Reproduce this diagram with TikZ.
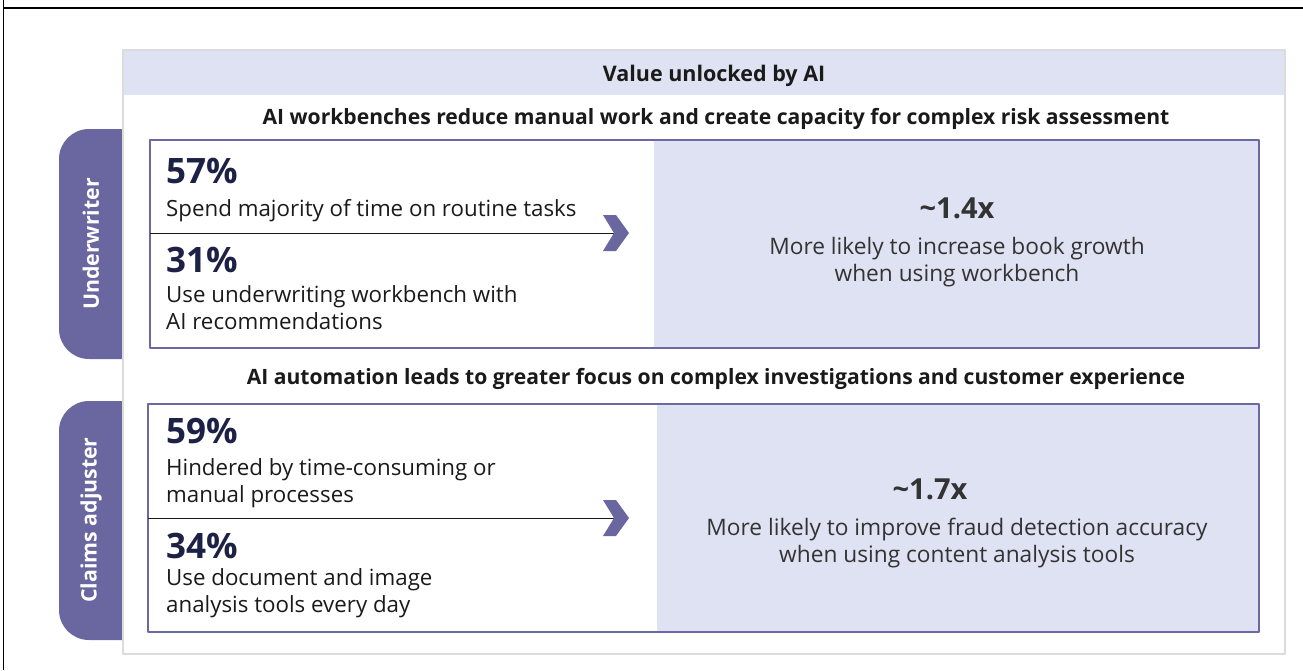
\documentclass[tikz,border=0pt]{standalone}
\usepackage{fontspec}
\setmainfont{Open Sans}
\usepackage{tikz}
\usetikzlibrary{positioning}

\definecolor{tabcol}{HTML}{6A669F}
\definecolor{lavcol}{HTML}{DFE2F3}
\definecolor{navycol}{HTML}{1D2146}
\definecolor{inkcol}{HTML}{1A1A1A}
\definecolor{softcol}{HTML}{333333}
\definecolor{panelcol}{HTML}{DCDCDC}
\definecolor{boxcol}{HTML}{6C68A6}

\begin{document}
\begin{tikzpicture}[x=1pt,y=-1pt,line join=bevel,
  tabtext/.style={text=white,font=\bfseries\fontsize{21.3}{24}\selectfont,rotate=90},
  heading/.style={anchor=base,text=inkcol,font=\bfseries\fontsize{21.1}{24}\selectfont},
  pct/.style={anchor=base west,inner xsep=0pt,text=navycol,font=\bfseries\fontsize{35}{38}\selectfont},
  stat/.style={anchor=base west,inner xsep=0pt,text=inkcol,align=left,font=\fontsize{22.3}{27}\selectfont},
  factor/.style={anchor=base,text=softcol,font=\bfseries\fontsize{29}{32}\selectfont},
  gain/.style={anchor=base,text=softcol,align=center,font=\fontsize{22.7}{27}\selectfont},
  chev/.style={fill=tabcol,draw=none},
]
\useasboundingbox (0,0) rectangle (1303,670);
%% frame
\coordinate (fr0) at (3.5,0);
\coordinate (fr1) at (3.5,670);
\coordinate (fr2) at (3.5,8);
\coordinate (fr3) at (1303,8);
\draw [black,line width=1.2pt] (fr0) -- (fr1);
\draw [black,line width=1.2pt] (fr2) -- (fr3);
%% side tabs
\fill [tabcol,rounded corners=30pt] (59,129) rectangle (170,359);
\fill [tabcol,rounded corners=30pt] (59,401) rectangle (170,640);
%% panel
\filldraw [fill=white,draw=panelcol,line width=2pt] (123,50) rectangle (1285,654);
\fill [lavcol] (124,51) rectangle (1284,95);
%% underwriter box
\fill [lavcol] (654,140) rectangle (1259,348);
\draw [boxcol,line width=2pt] (150,140) rectangle (1259,348);
%% claims box
\fill [lavcol] (657,404) rectangle (1259,632);
\draw [boxcol,line width=2pt] (148,404) rectangle (1259,632);
%
  \node (uwtab) at (91,244) [tabtext] {Underwriter};
  \node (catab) at (91,520) [tabtext] {Claims adjuster};
  \node (title) at (714,81) [heading,font=\bfseries\fontsize{21.5}{24}\selectfont] {Value unlocked by AI};
  \node (uwhead) at (716,124) [heading] {AI workbenches reduce manual work and create capacity for complex risk assessment};
  \node (cahead) at (716,384) [heading] {AI automation leads to greater focus on complex investigations and customer experience};
%
  \node (uw1num) at (166,183) [pct] {57\%};
  \node (uw1txt) at (166,216) [stat] {Spend majority of time on routine tasks};
  \node (uw2num) at (166,272) [pct] {31\%};
  \node (uw2txt) at (166,329) [stat] {Use underwriting workbench with\\AI recommendations};
  \node (uwx) at (957,218) [factor] {\textasciitilde1.4x};
  \node (uwgain) at (957,281) [gain] {More likely to increase book growth\\when using workbench};
%
  \node (ca1num) at (166,443) [pct] {59\%};
  \node (ca1txt) at (166,502) [stat] {Hindered by time-consuming or\\manual processes};
  \node (ca2num) at (166,558) [pct] {34\%};
  \node (ca2txt) at (166,612) [stat] {Use document and image\\analysis tools every day};
  \node (cax) at (930,499) [factor] {\textasciitilde1.7x};
  \node (cagain) at (957,562) [gain] {More likely to improve fraud detection accuracy\\when using content analysis tools};
%% dividers and chevrons
  \coordinate (uwdiv) at (150,233);
  \coordinate (uwtip) at (614,233);
  \coordinate (cadiv) at (148,518);
  \coordinate (catip) at (614,518);
  \draw [inkcol,line width=1pt] (uwdiv) -- (uwtip);
  \draw [inkcol,line width=1pt] (cadiv) -- (catip);
  \fill [chev] (603,215) -- (616,215) -- (629,233) -- (616,251) -- (603,251) -- (uwtip) -- cycle;
  \fill [chev] (603,500) -- (616,500) -- (629,518) -- (616,536) -- (603,536) -- (catip) -- cycle;
%
\end{tikzpicture}
\end{document}
